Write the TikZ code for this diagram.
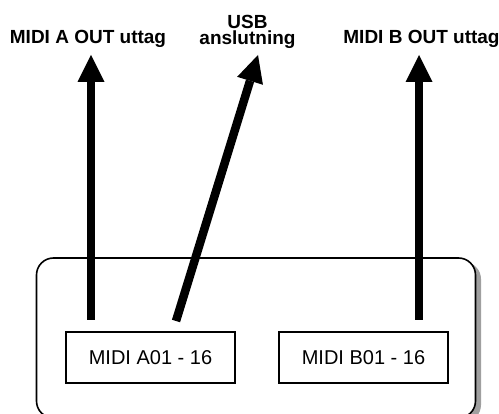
\documentclass[tikz,border=0pt]{standalone}
\usepackage{fontspec}
\setmainfont{Liberation Sans}
\usetikzlibrary{arrows.meta}
\begin{document}
\begin{tikzpicture}[x=1pt,y=-1pt,
  lbl/.style={font=\fontsize{19}{16.5}\selectfont\bfseries,inner sep=0pt,align=center},
  chanbox/.style={draw,line width=1.3pt,minimum width=169pt,minimum height=51pt,inner sep=0pt,font=\fontsize{20}{22}\selectfont},
  bigarrow/.style={line width=8.5pt,-{Triangle[length=27pt,width=27pt,line width=0pt]}}]
\useasboundingbox (0,0) rectangle (499,414);
% panel with shadow
\fill[gray!75,rounded corners=17pt] (41,262) rectangle (481,422);
\draw[fill=white,line width=1.6pt,rounded corners=17pt] (36.5,258) rectangle (475.5,418);
\node[chanbox] (boxA) at (150.5,357.5) {MIDI A01 - 16};
\node[chanbox] (boxB) at (363.5,357.5) {MIDI B01 - 16};
\node[lbl,anchor=base] (labA) at (88,44) {MIDI A OUT uttag};
\node[lbl,anchor=north] (labUSB) at (247.5,15) {USB\\anslutning};
\node[lbl,anchor=base] (labB) at (421.5,44) {MIDI B OUT uttag};
\coordinate (tailA) at (91,320);
\coordinate (tipA) at (91,55);
\coordinate (tailU) at (176,321);
\coordinate (tipU) at (258,55);
\coordinate (tailB) at (419,320);
\coordinate (tipB) at (419,55);
\draw[bigarrow] (tailA) -- (tipA);
\draw[bigarrow] (tailU) -- (tipU);
\draw[bigarrow] (tailB) -- (tipB);
\end{tikzpicture}
\end{document}
